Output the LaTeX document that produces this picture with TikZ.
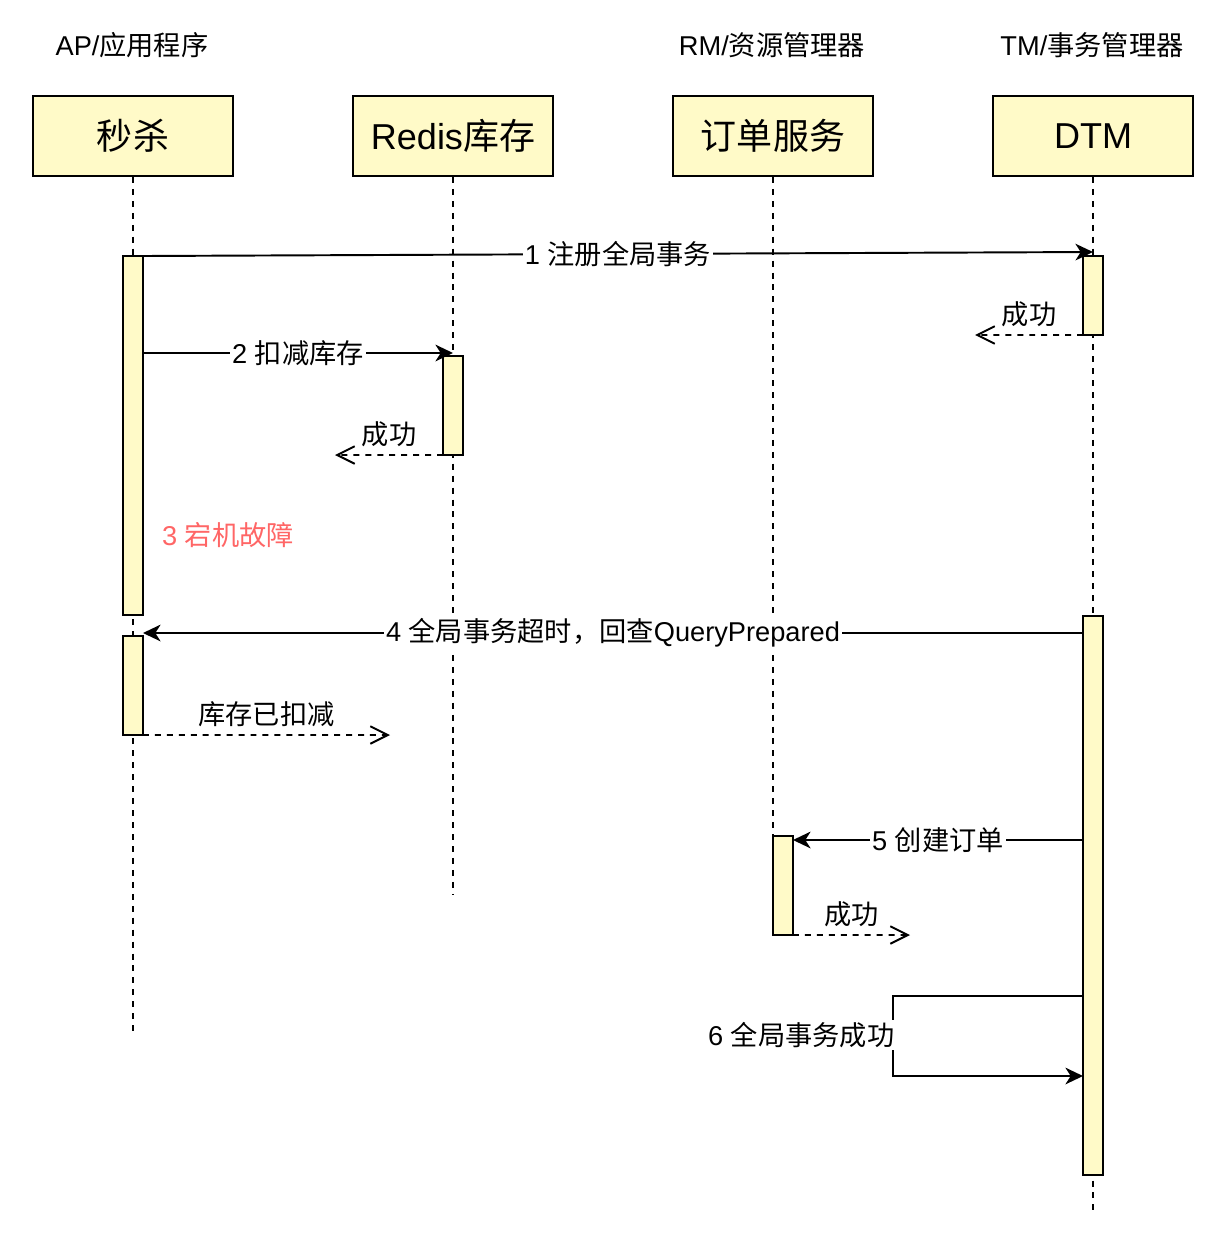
\documentclass[tikz,border=0pt]{standalone}
\usepackage{fontspec}
\setmainfont{Liberation Sans}
\newfontfamily\cjk{Noto Sans CJK SC}
\usetikzlibrary{arrows.meta}

\definecolor{lifebox}{HTML}{FFFAC8}
\definecolor{failred}{HTML}{FF6666}

\tikzset{
	head/.style={draw, fill=lifebox, minimum width=4cm, minimum height=1.6cm,
		font=\fontsize{20.5}{24}\selectfont},
	role/.style={font=\fontsize{15.5}{18}\selectfont},
	bar/.style={draw, fill=lifebox, minimum width=0.4cm, inner sep=0pt, outer sep=0pt, anchor=north},
	life/.style={dash pattern=on 3.4pt off 3.4pt},
	msg/.style={-{Stealth[length=10pt,width=9.5pt,inset=3pt]}},
	reply/.style={dash pattern=on 3.4pt off 3.4pt, -{Straight Barb[length=10pt,width=10pt]}},
	lbl/.style={fill=white, inner sep=1pt, font=\fontsize{15.5}{18}\selectfont},
}

\begin{document}
\begin{tikzpicture}[x=0.02cm, y=-0.02cm, line width=1.1pt]
	\useasboundingbox (0,0) rectangle (1226,1234);
	% roles
	\node[role] (apRole) at (132,45) {AP/{\cjk 应用程序}};
	\node[role] (rmRole) at (772,45) {RM/{\cjk 资源管理器}};
	\node[role] (tmRole) at (1092,45) {TM/{\cjk 事务管理器}};
	% participants
	\node[head] (ap) at (133,136) {\cjk 秒杀};
	\node[head] (rd) at (453,136) {Redis{\cjk 库存}};
	\node[head] (od) at (773,136) {\cjk 订单服务};
	\node[head] (tm) at (1093,136) {DTM};
	% lifelines (drawn first, bars on top)
	\coordinate (apEnd) at (133,1035);
	\coordinate (rdEnd) at (453,895);
	\coordinate (odEnd) at (773,836);
	\coordinate (tmEnd) at (1093,1215);
	\draw[life] (ap.south) -- (apEnd);
	\draw[life] (rd.south) -- (rdEnd);
	\draw[life] (od.south) -- (odEnd);
	\draw[life] (tm.south) -- (tmEnd);
	% activation bars
	\node[bar, minimum height=7.18cm] (ap1) at (133,256) {};
	\node[bar, minimum height=1.98cm] (ap2) at (133,636) {};
	\node[bar, minimum height=1.98cm] (rd1) at (453,356) {};
	\node[bar, minimum height=1.58cm] (tm1) at (1093,256) {};
	\node[bar, minimum height=11.18cm] (tm2) at (1093,616) {};
	\node[bar, minimum height=1.98cm] (od1) at (783,836) {};
	% 1 register
	\draw[msg] (ap1.north east) -- node[lbl] {1 {\cjk 注册全局事务}} ([yshift=0.08cm]tm1.north);
	\coordinate (tmBack) at (975,335);
	\draw[reply] (tm1.south west) -- node[lbl, above=3pt, fill=none] {\cjk 成功} (tmBack);
	% 2 deduct stock
	\draw[msg] ([yshift=0.06cm]ap1.east |- rd1.north) -- node[lbl] {2 {\cjk 扣减库存}} ([yshift=0.06cm]rd1.north);
	\coordinate (rdBack) at (335,455);
	\draw[reply] (rd1.south west) -- node[lbl, above=3pt, fill=none] {\cjk 成功} (rdBack);
	% 3 crash
	\node[lbl, text=failred] (crash) at (228,535) {3 {\cjk 宕机故障}};
	% 4 timeout, query back
	\draw[msg] ([yshift=0.06cm]tm2.west |- ap2.north) -- node[lbl] {4 {\cjk 全局事务超时，回查}QueryPrepared} ([yshift=0.06cm]ap2.north east);
	\coordinate (apBack) at (390,735);
	\draw[reply] (ap2.south east) -- node[lbl, above=3pt, fill=none] {\cjk 库存已扣减} (apBack);
	% 5 create order
	\draw[msg] ([yshift=-0.08cm]tm2.west |- od1.north) -- node[lbl] {5 {\cjk 创建订单}} ([yshift=-0.08cm]od1.north east);
	\coordinate (odBack) at (910,935);
	\draw[reply] (od1.south east) -- node[lbl, above=3pt, fill=none] {\cjk 成功} (odBack);
	% 6 self call
	\coordinate (selfOut) at (1083,996);
	\coordinate (selfIn) at (1083,1076);
	\draw[msg] (selfOut) -- (893,996) -- (893,1076) -- (selfIn);
	\node[lbl, anchor=east] (done) at (897,1035) {6 {\cjk 全局事务成功}};
\end{tikzpicture}
\end{document}
